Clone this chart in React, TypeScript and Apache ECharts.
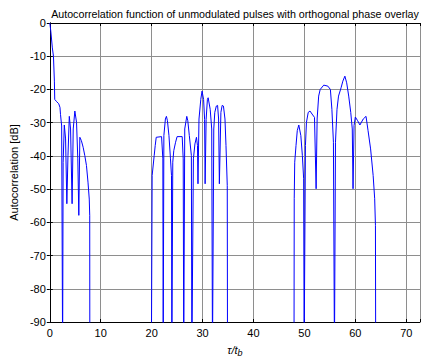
import React, { useEffect, useRef } from "react";
import * as echarts from "echarts";

// Normalised delay τ/t_b and autocorrelation level in dB, one pair list per lobe group.
// Nulls are written as -100 dB so they fall below the -90 dB floor and get clipped.
const lobeGroupA: [number, number][] = [
  [0, 0], [0.2, -2.5], [0.5, -7.5], [0.72, -10], [0.9, -17.5], [0.97, -23],
  [1.36, -23.7], [1.75, -24.3], [2.0, -25.4], [2.1, -27.5], [2.33, -31], [2.52, -100],
  [2.62, -42], [2.85, -30.7], [3.1, -34.9], [3.35, -54.4], [3.57, -39.9], [3.83, -28.1],
  [4.08, -31.9], [4.38, -54.4], [4.6, -31.9], [4.92, -26.5], [5.25, -29.9], [5.5, -40.9],
  [5.7, -57.9], [5.9, -34.4], [6.2, -35.4], [6.55, -37.4], [6.87, -39.9], [7.2, -42.9],
  [7.5, -47.9], [7.75, -53], [7.84, -58], [7.86, -100],
];

const lobeGroupB: [number, number][] = [
  [19.95, -100], [20.1, -45.9], [20.5, -39.9], [20.7, -36.9], [20.9, -34.4], [21.95, -34.2],
  [22.2, -40.9], [22.27, -100], [22.4, -33.9], [22.7, -28.9], [22.9, -28.1], [23.1, -29.4],
  [23.4, -33.9], [23.7, -40.9], [23.9, -45.9], [23.97, -100], [24.15, -41.9], [24.35, -38.4],
  [24.7, -35.9], [25.0, -34.2], [26.0, -34.2], [26.2, -40.9], [26.3, -100], [26.5, -31.9],
  [26.9, -28.1], [27.1, -29.4], [27.4, -33.9], [27.8, -39.9], [27.9, -100], [28.2, -40.9],
  [28.5, -36.4], [28.8, -34.4], [29.0, -36.9], [29.1, -48.4], [29.3, -28.9], [29.65, -23],
  [29.9, -20.5], [30.2, -23], [30.4, -29], [30.5, -48.4], [30.7, -29], [30.95, -23],
  [31.1, -22.5], [31.5, -26], [31.8, -31.9], [31.95, -100], [32.2, -31.9], [32.4, -26.9],
  [32.7, -25], [32.95, -24.8], [33.15, -28.9], [33.3, -48.4], [33.6, -26.9], [33.85, -24.8],
  [34.1, -25], [34.4, -28.9], [34.6, -36.9], [34.85, -48.9], [34.9, -100],
];

const lobeGroupC: [number, number][] = [
  [47.96, -100], [48.0, -52.9], [48.1, -41.9], [48.35, -36.9], [48.6, -32.4], [48.9, -30.7],
  [49.3, -33.9], [49.6, -39.9], [49.85, -46.9], [49.95, -100], [50.2, -36.9], [50.4, -29.9],
  [50.75, -26.9], [51.1, -26.5], [51.5, -27.4], [51.98, -28.4], [52.3, -49.9], [52.5, -28.9],
  [52.8, -22], [53.1, -20], [53.8, -18.7], [54.6, -19], [55.1, -20], [55.4, -26],
  [55.7, -35.9], [55.9, -100], [56.1, -35.9], [56.4, -26], [56.7, -22], [57.2, -19.5],
  [57.55, -17.5], [57.95, -16], [58.3, -18], [58.7, -22], [59.1, -26.9], [59.4, -31.9],
  [59.55, -49.9], [59.75, -30.9], [60.0, -28.3], [60.45, -29.4], [60.9, -30.7], [61.55, -28.9],
  [62.1, -28.1], [62.5, -32.4], [63.0, -37.9], [63.5, -45.9], [63.8, -52.9], [63.95, -60.9],
  [64.0, -100],
];

const tailEnd: [number, number][] = [[72.7, -100]];

const xTicks = [0, 10, 20, 30, 40, 50, 60, 70];
const yTicks = [0, -10, -20, -30, -40, -50, -60, -70, -80, -90];

const FONT = "'Liberation Sans', Arial, sans-serif";

export default function App() {
  const ref = useRef<HTMLDivElement>(null);

  useEffect(() => {
    if (!ref.current) return;
    const chart = echarts.init(ref.current, undefined, { renderer: "svg" });
    const curve = [...lobeGroupA, ...lobeGroupB, ...lobeGroupC, ...tailEnd];

    const xMin = xTicks[0];
    const xMax = 72.7;
    const yMin = yTicks[yTicks.length - 1];
    const yMax = yTicks[0];

    const tickLabel = (v: number) => (xTicks.includes(v) ? String(v) : "");
    const yLabel = (v: number) => (yTicks.includes(v) ? String(v) : "");

    const boxAxis = {
      axisLine: { show: true, lineStyle: { color: "#000", width: 1 } },
      axisTick: { show: true, inside: true, length: 3, lineStyle: { color: "#000" } },
      axisLabel: { show: false },
      splitLine: { show: false },
    };

    chart.setOption({
      animation: false,
      backgroundColor: "#fff",
      title: {
        text: "Autocorrelation function of unmodulated pulses with orthogonal phase overlay",
        left: 230,
        top: 3,
        textAlign: "center",
        textStyle: { fontFamily: FONT, fontSize: 10.7, fontWeight: "normal", color: "#000" },
      },
      grid: { left: 46, right: 2.5, top: 23, bottom: 38, containLabel: false },
      xAxis: [
        {
          type: "value",
          min: xMin,
          max: xMax,
          interval: 10,
          position: "bottom",
          name: "{i|τ/t}{s|b}",
          nameLocation: "middle",
          nameGap: 20,
          nameTextStyle: {
            rich: {
              i: { fontFamily: FONT, fontSize: 11, fontStyle: "italic", color: "#000" },
              s: { fontFamily: FONT, fontSize: 9, fontStyle: "italic", color: "#000", verticalAlign: "bottom", padding: [6, 0, 0, 0] },
            },
          },
          axisLine: { show: true, onZero: false, lineStyle: { color: "#000", width: 1 } },
          axisTick: { show: true, inside: true, length: 3, lineStyle: { color: "#000" } },
          axisLabel: { fontFamily: FONT, fontSize: 11, color: "#000", margin: 5, formatter: tickLabel },
          splitLine: { show: true, lineStyle: { color: "#8e8e8e", width: 1 } },
        },
        { type: "value", min: xMin, max: xMax, interval: 10, position: "top", ...boxAxis },
      ],
      yAxis: [
        {
          type: "value",
          min: yMin,
          max: yMax,
          interval: 10,
          position: "left",
          name: "Autocorrelation [dB]",
          nameLocation: "middle",
          nameGap: 30,
          nameRotate: 90,
          nameTextStyle: { fontFamily: FONT, fontSize: 11, color: "#000" },
          axisLine: { show: true, onZero: false, lineStyle: { color: "#000", width: 1 } },
          axisTick: { show: true, inside: true, length: 3, lineStyle: { color: "#000" } },
          axisLabel: { fontFamily: FONT, fontSize: 11, color: "#000", margin: 4, formatter: yLabel },
          splitLine: { show: true, lineStyle: { color: "#8e8e8e", width: 1 } },
        },
        { type: "value", min: yMin, max: yMax, interval: 10, position: "right", ...boxAxis },
      ],
      series: [
        {
          type: "line",
          data: curve,
          xAxisIndex: 0,
          yAxisIndex: 0,
          showSymbol: false,
          clip: true,
          lineStyle: { color: "#0000ff", width: 1 },
          silent: true,
        },
      ],
    });

    return () => chart.dispose();
  }, []);

  return (
    <div
      ref={ref}
      style={{ position: "fixed", left: 0, top: 0, width: 423, height: 362, background: "#fff" }}
    />
  );
}
